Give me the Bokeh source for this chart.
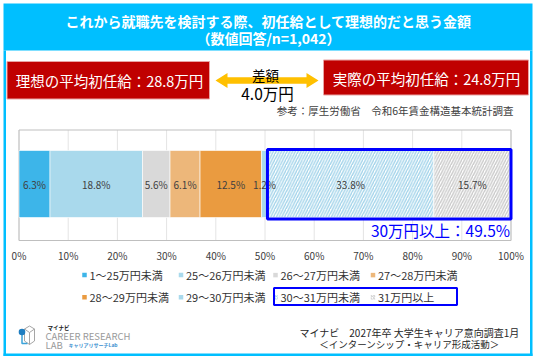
from bokeh.plotting import figure
from bokeh.models import Range1d, LinearAxis, FixedTicker, ColumnDataSource
from bokeh.core.properties import value
from bokeh.embed import file_html
from bokeh.resources import INLINE
import numpy as np

# ---------------- data ----------------
title_lines = ["これから就職先を検討する際、初任給として理想的だと思う金額",
               "（数値回答/n=1,042）"]
categories = ["1～25万円未満", "25～26万円未満", "26～27万円未満", "27～28万円未満",
              "28～29万円未満", "29～30万円未満", "30～31万円未満", "31万円以上"]
shares = [6.3, 18.8, 5.6, 6.1, 12.5, 1.2, 33.8, 15.7]
fill_colors = ["#3DB5E9", "#A9D9EC", "#D9D9D9", "#EDB77A", "#EA9B40", "#A9D9EC", "#FFFFFF", "#FFFFFF"]
hatch_patterns = [" ", " ", " ", " ", " ", " ", "/", "/"]
hatch_colors = ["#FFFFFF", "#FFFFFF", "#FFFFFF", "#FFFFFF", "#FFFFFF", "#FFFFFF", "#A3D4EA", "#CACACA"]
ticks = [0, 10, 20, 30, 40, 50, 60, 70, 80, 90, 100]
tick_labels = ["0%", "10%", "20%", "30%", "40%", "50%", "60%", "70%", "80%", "90%", "100%"]
ideal_salary = 28.8
actual_salary = 24.8
salary_gap = 4.0
over30_share = 49.5
source_note = "参考：厚生労働省　令和6年賃金構造基本統計調査"
footer_lines = ["マイナビ　2027年卒 大学生キャリア意向調査1月", "＜インターンシップ・キャリア形成活動＞"]

# ---------------- layout constants (reference pixel space) ----------------
FONT = "Noto Sans CJK JP"
W, H = 536, 362
PL, PR = 18.5, 510.5     # 0% .. 100%
PT, PB = 129.5, 240.0    # plot frame top / bottom
BAR_Y, BAR_H = 183.5, 67
CYAN = "#00BFFF"
RED = "#C00000"
BLUE = "#0000FF"
TXT = "#404040"

p = figure(width=W, height=H, x_range=Range1d(0, W), y_range=Range1d(H, 0),
           output_backend="svg", toolbar_location=None, min_border=0,
           x_axis_type=None, y_axis_type=None)
p.outline_line_color = None
p.background_fill_color = "white"
p.border_fill_color = "white"

ppp = (PR - PL) / 100.0
p.extra_x_ranges = {"pct": Range1d((0 - PL) / ppp, (W - PL) / ppp)}

def txt(x, y, s, size, color=TXT, align="center", style="normal", xr="default"):
    p.text(x=[x], y=[y], text=[s], text_font=value(FONT), text_font_size=size,
           text_color=color, text_align=align, text_baseline="middle",
           text_font_style=style, x_range_name=xr)

# ---------------- frame & title ----------------
p.quad(left=[3], right=[532], top=[3], bottom=[50], fill_color=CYAN, line_color=None)
p.quad(left=[3, 529.5, 3], right=[5.5, 532, 532], top=[50, 50, 353],
       bottom=[355.5, 355.5, 355.5], fill_color=CYAN, line_color=None)
txt(268, 20.5, title_lines[0], "14px", "white", style="bold")
txt(268, 37.5, title_lines[1], "14px", "white", style="bold")

# ---------------- salary boxes ----------------
p.quad(left=[6.5, 323], right=[209, 528], top=[61, 59.5], bottom=[98.5, 94.5],
       fill_color=RED, line_color="#E9A3A3", line_width=1)
txt(109, 79.5, f"理想の平均初任給：{ideal_salary:.1f}万円", "14.5px", "white")
txt(426, 77.5, f"実際の平均初任給：{actual_salary:.1f}万円", "14.5px", "white")

L, R, cy, hl, hh, sh = 215, 318, 80, 12, 7.5, 3.2
p.patch(x=[L, L + hl, L + hl, R - hl, R - hl, R, R - hl, R - hl, L + hl, L + hl],
        y=[cy, cy - hh, cy - sh, cy - sh, cy - hh, cy, cy + hh, cy + sh, cy + sh, cy + hh],
        fill_color="#FFC000", line_color=None)
txt(265, 74, "差額", "13.5px", "#000000")
txt(267, 92.5, f"{salary_gap:.1f}万円", "15.5px", "#000000")
txt(513, 110, source_note, "10.5px", TXT, align="right")

# ---------------- bar chart ----------------
p.segment(x0=ticks, x1=ticks, y0=[PT] * len(ticks), y1=[PB] * len(ticks),
          line_color="#E4E4E4", line_width=1, x_range_name="pct")
p.quad(left=[0], right=[100], top=[PT], bottom=[PB], fill_color=None,
       line_color="#BFBFBF", line_width=1, x_range_name="pct")

vals = np.array(shares)
lefts = np.concatenate([[0], np.cumsum(vals)[:-1]])
rights = lefts + vals
src = ColumnDataSource(dict(left=lefts, right=rights, fill=fill_colors,
                            hatch=hatch_patterns, hcol=hatch_colors,
                            mid=(lefts + rights) / 2,
                            lab=[f"{v:.1f}%" for v in shares]))
p.hbar(y=BAR_Y, height=BAR_H, left="left", right="right", fill_color="fill",
       hatch_pattern="hatch", hatch_color="hcol", hatch_scale=5.5, hatch_weight=1.4,
       line_color="white", line_width=0.6, source=src, x_range_name="pct")
p.text(x="mid", y=BAR_Y, text="lab", source=src, text_font=value(FONT),
       text_font_size="10px", text_color=TXT, text_align="center",
       text_baseline="middle", x_range_name="pct")

hi_left = float(lefts[6])
p.quad(left=[hi_left], right=[100], top=[BAR_Y - BAR_H / 2 - 1], bottom=[BAR_Y + BAR_H / 2 + 1.5],
       fill_color=None, line_color=BLUE, line_width=3, x_range_name="pct")
txt(99.8, 229.5, f"30万円以上：{over30_share:.1f}%", "15.5px", BLUE, align="right", xr="pct")

ax = LinearAxis(x_range_name="pct", fixed_location=PB, ticker=FixedTicker(ticks=ticks),
                major_label_overrides={t: l for t, l in zip(ticks, tick_labels)})
ax.axis_line_color = None
ax.major_tick_line_color = None
ax.minor_tick_line_color = None
ax.major_label_text_font = FONT
ax.major_label_text_font_size = "10px"
ax.major_label_text_color = TXT
ax.major_label_standoff = 1
p.add_layout(ax, "below")

# ---------------- legend (manual) ----------------
col_x = [84, 180.5, 275, 372.5]
row_y = [274.6, 296.8]
lx = [col_x[i % 4] for i in range(len(categories))]
ly = [row_y[i // 4] for i in range(len(categories))]
lsrc = ColumnDataSource(dict(x=lx, y=ly, tx=[x + 5 for x in lx], fill=fill_colors,
                             hatch=hatch_patterns, hcol=hatch_colors, lab=categories))
p.rect(x="x", y="y", width=4.5, height=4.5, fill_color="fill", hatch_pattern="hatch",
       hatch_color="hcol", hatch_scale=3, line_color=None, source=lsrc)
p.text(x="tx", y="y", text="lab", source=lsrc, text_font=value(FONT),
       text_font_size="11px", text_color="#333333", text_align="left", text_baseline="middle")
p.quad(left=[273.5], right=[456.5], top=[287.5], bottom=[304.5], fill_color=None,
       line_color=BLUE, line_width=2)

# ---------------- footer ----------------
txt(409, 332, footer_lines[0], "10px", "#262626")
txt(409, 343, footer_lines[1], "9.5px", "#262626")

# logo
p.patch(x=[29, 34, 34, 29, 24, 24], y=[325.5, 328.5, 340.5, 344, 340.5, 328.5],
        fill_color=None, line_color="#A6A6A6", line_width=1)
p.multi_line(xs=[[24, 29, 34], [29, 29]], ys=[[328.5, 332, 328.5], [332, 344]],
             line_color="#A6A6A6", line_width=1)
p.multi_line(xs=[[21.5, 21.5, 27]], ys=[[332, 343, 343]], line_color="#3BA3D9", line_width=1.5)
p.circle(x=[21.5], y=[331.5], radius=3.3, fill_color="#1F7EC1", line_color=None)
txt(47, 327.5, "マイナビ", "5.5px", "#222222", align="left", style="bold")
txt(45, 335, "CAREER RESEARCH", "9.5px", "#9A9A9A", align="left")
txt(45, 344, "LAB", "9.5px", "#9A9A9A", align="left")
txt(68, 344, "キャリアリサーチLab", "5px", "#3B8FD0", align="left", style="bold")

open("out.html", "w").write(file_html(p, INLINE))
